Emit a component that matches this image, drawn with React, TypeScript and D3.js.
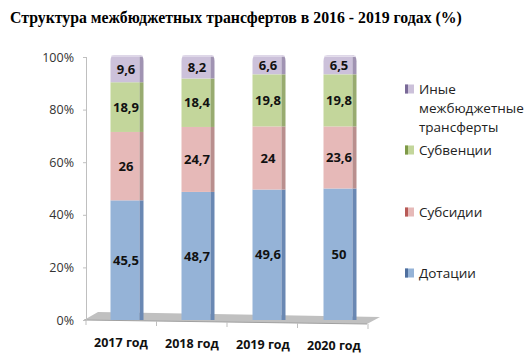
import React from "react";
import * as d3 from "d3";

const categories = ["2017 год", "2018 год", "2019 год", "2020 год"];
const seriesNames = ["Дотации", "Субсидии", "Субвенции", "Иные межбюджетные трансферты"];
const dotacii = [45.5, 48.7, 49.6, 50];
const subsidii = [26, 24.7, 24, 23.6];
const subvencii = [18.9, 18.4, 19.8, 19.8];
const inye = [9.6, 8.2, 6.6, 6.5];
const yTicks = [0, 20, 40, 60, 80, 100];

const colors = ["#95b3d7", "#e6b9b8", "#c3d69b", "#ccc1da"];
const sideColors = ["#6a88b3", "#b98f8e", "#98ab70", "#a093b2"];
const legendMarkerColors = ["#4f6f9e", "#b85a57", "#7f9a48", "#7a6a98"];

const W = 527, H = 360;
const font = "'Open Sans', 'DejaVu Sans', sans-serif";

export default function App() {
  const y = d3.scaleLinear().domain([0, 100]).range([320, 57]);
  const x = d3.scalePoint<string>().domain(categories).range([91.5, 375.5]).padding(0.5);
  const data = [dotacii, subsidii, subvencii, inye];
  const frontW = 29, sideW = 4;

  const bars: React.ReactNode[] = [];
  categories.forEach((c, i) => {
    const cx = x(c)!;
    const x0 = cx - (frontW + sideW) / 2;
    let acc = 0;
    data.forEach((s, si) => {
      const v = s[i];
      const yTop = y(acc + v);
      const yBot = y(acc);
      const isTop = si === data.length - 1;
      const h = yBot - yTop;
      if (isTop) {
        const r = 4;
        const pathFront = `M${x0},${yBot} L${x0},${yTop + r} Q${x0},${yTop - 2} ${x0 + r},${yTop - 2} L${x0 + frontW},${yTop - 2} L${x0 + frontW},${yBot} Z`;
        const pathSide = `M${x0 + frontW},${yBot} L${x0 + frontW},${yTop - 2} L${x0 + frontW + sideW - r},${yTop - 2} Q${x0 + frontW + sideW},${yTop - 2} ${x0 + frontW + sideW},${yTop + r} L${x0 + frontW + sideW},${yBot} Z`;
        bars.push(<path key={`f${i}${si}`} d={pathFront} fill={colors[si]} />);
        bars.push(<path key={`s${i}${si}`} d={pathSide} fill={sideColors[si]} />);
        bars.push(<path key={`t${i}${si}`} d={`M${x0 + 1},${yTop - 1} L${x0 + frontW + sideW - 1},${yTop - 1}`} stroke="#e4deec" strokeWidth={1.5} />);
      } else {
        bars.push(<rect key={`f${i}${si}`} x={x0} y={yTop} width={frontW} height={h} fill={colors[si]} />);
        bars.push(<rect key={`s${i}${si}`} x={x0 + frontW} y={yTop} width={sideW} height={h} fill={sideColors[si]} />);
      }
      bars.push(
        <text key={`l${i}${si}`} x={x0 + frontW / 2 + 1} y={(yTop + yBot) / 2} dy="0.36em" textAnchor="middle"
          fontFamily={font} fontWeight="bold" fontSize={13} fill="#111">
          {String(v).replace(".", ",")}
        </text>
      );
      acc += v;
    });
  });

  const legendItems = [
    { idx: 3, lines: ["Иные", "межбюджетные", "трансферты"], y: 89 },
    { idx: 2, lines: ["Субвенции"], y: 150 },
    { idx: 1, lines: ["Субсидии"], y: 212 },
    { idx: 0, lines: ["Дотации"], y: 273 },
  ];

  return (
    <svg width={W} height={H} style={{ position: "absolute", left: 0, top: 0 }}>
      <rect width={W} height={H} fill="#fff" />
      <text x={10} y={23} fontFamily="'Liberation Serif', 'Times New Roman', serif" fontWeight="bold" fontSize={15.8} fill="#000">
        Структура межбюджетных трансфертов в 2016 - 2019 годах (%)
      </text>
      {/* floor */}
      <path d="M84,320 L98,312 L380,317 L367,324 Z" fill="#c0c0c0" />
      <path d="M84,320 L367,324" stroke="#a0a0a0" strokeWidth={1} />
      {/* y axis */}
      <line x1={86.5} x2={86.5} y1={57} y2={320} stroke="#bfbfbf" />
      {yTicks.map((t) => (
        <g key={t}>
          <line x1={83} x2={86.5} y1={y(t) + 0.5} y2={y(t) + 0.5} stroke="#bfbfbf" />
          <text x={74} y={y(t)} dy="0.36em" textAnchor="end" fontFamily={font} fontSize={12.5} fill="#333">
            {t}%
          </text>
        </g>
      ))}
      {/* category ticks */}
      {[0, 1, 2, 3, 4].map((k) => {
        const tx = 86 + k * 70.5;
        const ty = 320 + k * 1;
        return <line key={k} x1={tx} x2={tx} y1={ty} y2={ty + 5} stroke="#bfbfbf" />;
      })}
      {bars}
      {categories.map((c, i) => (
        <text key={c} x={x(c)! - 6} y={342 + i * 1.3} dy="0.36em" textAnchor="middle" fontFamily={font} fontWeight="bold" fontSize={12.5} fill="#111">
          {c}
        </text>
      ))}
      {legendItems.map((it) => (
        <g key={it.idx}>
          <rect x={405} y={it.y - 4.5} width={9} height={9} fill={colors[it.idx]} />
          <rect x={405} y={it.y - 4.5} width={3} height={9} fill={legendMarkerColors[it.idx]} />
          {it.lines.map((ln, k) => (
            <text key={k} x={419} y={it.y + k * 19} dy="0.36em" fontFamily={font} fontSize={13.5} fill="#222">
              {ln}
            </text>
          ))}
        </g>
      ))}
    </svg>
  );
}
